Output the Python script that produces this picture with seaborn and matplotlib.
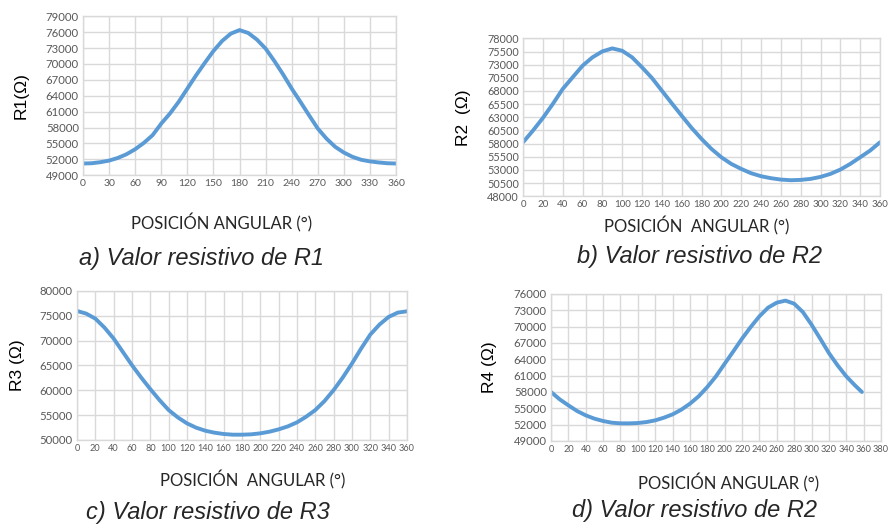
import numpy as np
import pandas as pd
import seaborn as sns
from matplotlib import pyplot as plt

# datos (cada 10 grados)
ang = list(range(0, 361, 10))
r1 = [51200, 51250, 51450, 51750, 52250, 52950, 53900, 55100, 56550, 58750,
      60650, 62850, 65350, 67850, 70200, 72450, 74350, 75730, 76400,
      75850, 74600, 72900, 70570, 68050, 65350, 62850, 60300, 57800, 55900,
      54350, 53270, 52450, 51900, 51600, 51400, 51250, 51200]
r2 = [58250, 60470, 62870, 65530, 68380, 70600, 72800, 74400, 75530, 76100,
      75650, 74400, 72500, 70470, 68060, 65660, 63300, 60980, 58890, 56990,
      55400, 54140, 53190, 52370, 51800, 51420, 51160, 51040, 51100, 51290,
      51670, 52240, 53060, 54140, 55400, 56670, 58250]
r3 = [75980, 75450, 74440, 72630, 70420, 67740, 65060, 62580, 60250, 58040,
      56030, 54550, 53350, 52480, 51870, 51470, 51210, 51070, 51070, 51140,
      51340, 51670, 52140, 52740, 53550, 54690, 56030, 57840, 60050, 62590,
      65400, 68410, 71230, 73240, 74780, 75650, 75910]
ang_r4 = list(range(0, 351, 10)) + [358]
r4 = [58000, 56650, 55550, 54510, 53710, 53100, 52670, 52360, 52240, 52240,
      52300, 52480, 52790, 53280, 53890, 54750, 55850, 57200, 58920, 60880,
      63200, 65470, 67800, 69940, 71900, 73490, 74410, 74780, 74220, 72690,
      70370, 67800, 65160, 62900, 60880, 59220, 58000]

sns.set_style("white")
plt.rcParams['font.family'] = ['Lato', 'DejaVu Sans']

azul = '#5B9BD5'
gris_tick = '#595959'
gris_grid = '#D9D9D9'

fig = plt.figure(figsize=(8.88, 5.26), dpi=100)

def panel(rect, x, y, xt, yt, xlim, ylim, ylab, xfs):
    ax = fig.add_axes(rect)
    sns.lineplot(x=x, y=y, ax=ax, color=azul, linewidth=2.8)
    ax.set_xlim(*xlim)
    ax.set_ylim(*ylim)
    ax.set_xticks(xt)
    ax.set_yticks(yt)
    ax.grid(True, color=gris_grid, linewidth=1.0)
    ax.tick_params(length=0, colors=gris_tick, pad=3)
    ax.tick_params(axis='y', labelsize=8.2)
    ax.tick_params(axis='x', labelsize=xfs)
    for s in ax.spines.values():
        s.set_color(gris_grid)
        s.set_linewidth(1.0)
    ax.set_ylabel(ylab, fontsize=12.5, color='black', family=['Liberation Sans', 'DejaVu Sans'])
    return ax

ax1 = panel([0.0935, 0.667, 0.3525, 0.302], ang, r1, range(0, 361, 30),
            range(49000, 79001, 3000), (0, 360), (49000, 79000), 'R1(Ω)', 7.5)
ax2 = panel([0.589, 0.627, 0.402, 0.300], ang, r2, range(0, 361, 20),
            range(48000, 78001, 2500), (0, 360), (48000, 78000), 'R2  (Ω)', 7)
ax3 = panel([0.0867, 0.1635, 0.3716, 0.2833], ang, r3, range(0, 361, 20),
            range(50000, 80001, 5000), (0, 360), (50000, 80000), 'R3 (Ω)', 6.6)
ax4 = panel([0.6205, 0.1616, 0.3716, 0.2795], ang_r4, r4, range(0, 381, 20),
            range(49000, 76001, 3000), (0, 380), (49000, 76000), 'R4 (Ω)', 6.6)
ax2.tick_params(axis='y', labelsize=7.8)

# etiquetas de ejes
fig.text(222 / 888, 1 - 223 / 526, 'POSICIÓN ANGULAR (°)', ha='center', va='center', fontsize=12)
fig.text(697 / 888, 1 - 226 / 526, 'POSICIÓN  ANGULAR (°)', ha='center', va='center', fontsize=12)
fig.text(253 / 888, 1 - 480 / 526, 'POSICIÓN  ANGULAR (°)', ha='center', va='center', fontsize=12)
fig.text(729 / 888, 1 - 483 / 526, 'POSICIÓN ANGULAR (°)', ha='center', va='center', fontsize=12)
ax1.yaxis.set_label_coords(-0.173, 0.5)
ax2.yaxis.set_label_coords(-0.146, 0.5)
ax3.yaxis.set_label_coords(-0.158, 0.5)
ax4.yaxis.set_label_coords(-0.164, 0.5)

# subtitulos
cap = dict(ha='center', va='center', fontsize=17, style='italic', family=['Liberation Sans', 'DejaVu Sans'])
fig.text(201 / 888, 1 - 258 / 526, 'a) Valor resistivo de R1', **cap)
fig.text(699 / 888, 1 - 257 / 526, 'b) Valor resistivo de R2', **cap)
fig.text(208 / 888, 1 - 512 / 526, 'c) Valor resistivo de R3', **cap)
fig.text(694 / 888, 1 - 510 / 526, 'd) Valor resistivo de R2', **cap)

fig.savefig('out.png', dpi=100)
